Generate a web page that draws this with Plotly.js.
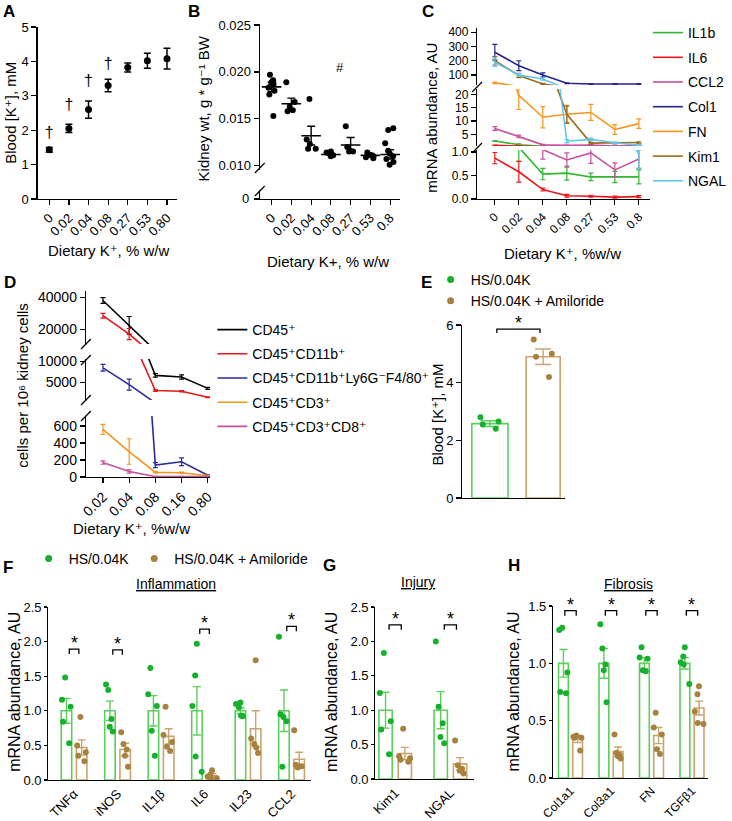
<!DOCTYPE html>
<html><head><meta charset="utf-8">
<script src="https://cdn.plot.ly/plotly-3.0.1.min.js"></script>
<style>html,body{margin:0;padding:0;background:#fff}#chart{width:732px;height:821px}</style>
</head><body><div id="chart"></div>
<script>
// ================= DATA =================
// Panel A
const aCats = ['0','0.02','0.04','0.08','0.27','0.53','0.80'];
const aMean = [1.43, 2.05, 2.60, 3.30, 3.82, 4.02, 4.08];
const aSem  = [0.07, 0.12, 0.25, 0.18, 0.13, 0.22, 0.30];
const aDaggerCats = ['0','0.02','0.04','0.08'];
const aDaggerY = [1.90, 2.70, 3.40, 3.90];
// Panel B
const bCats = ['0','0.02','0.04','0.08','0.27','0.53','0.8'];
const bDots = [
  [0.0197,0.0191,0.0189,0.0187,0.0185,0.0183,0.0180,0.0176,0.0153],
  [0.0189,0.0168,0.0163,0.0159,0.0158],
  [0.0171,0.0128,0.0123,0.0118,0.0118],
  [0.0115,0.0114,0.0113,0.0112,0.0111,0.0110],
  [0.0142,0.0120,0.0116,0.0115,0.0115],
  [0.0114,0.0112,0.0110,0.0109,0.0108,0.0111],
  [0.0140,0.0138,0.0124,0.0116,0.0113,0.0110,0.0107,0.0104,0.0101,0.0084]
];
const bMean = [0.0184, 0.0166, 0.0132, 0.0112, 0.0122, 0.0111, 0.0112];
const bSem  = [0.0005, 0.0006, 0.0010, 0.0001, 0.0008, 0.0002, 0.0005];
// Panel C
const cCats = ['0','0.02','0.04','0.08','0.27','0.53','0.8'];
const cIL1b = [2.5, 1.1, 0.53, 0.55, 0.47, 0.47, 0.47];
const cIL1bErr = [0.1, 0.3, 0.12, 0.15, 0.08, 0.12, 0.15];
const cIL6 = [0.87, 0.58, 0.20, 0.07, 0.06, 0.04, 0.05];
const cIL6Err = [0.12, 0.22, 0.03, 0.03, 0.02, 0.02, 0.02];
const cCCL2 = [7.2, 4.2, 1.05, 0.83, 0.98, 0.62, 0.85];
const cCCL2Err = [0.7, 0.5, 0.2, 0.15, 0.22, 0.15, 0.2];
const cCol1 = [260, 165, 100, 42, 37, 37, 37];
const cCol1Err = [55, 35, 15, 3, 3, 3, 3];
const cFN = [45, 19.6, 11.4, 12.5, 13.2, 6.8, 9.0];
const cFNErr = [5, 5.3, 4, 3, 3, 1.8, 1.8];
const cKim1 = [200, 97, 37, 12.5, 1.7, 1.7, 1.9];
const cKim1Err = [30, 15, 5, 3.4, 0.3, 0.3, 0.3];
const cNGAL = [190, 100, 72, 2.4, 3.1, 1.8, 0.95];
const cNGALErr = [30, 10, 8, 0.6, 0.5, 0.3, 0.3];
// Panel D
const dCats = ['0.02','0.04','0.08','0.16','0.80'];
const dCD45 = [38000, 22500, 6700, 6300, 3600];
const dCD45Err = [1800, 5500, 400, 500, 250];
const dCD11b = [28500, 17000, 3100, 2900, 1500];
const dCD11bErr = [1500, 3500, 200, 150, 100];
const dMac = [8500, 4500, 140, 180, 20];
const dMacErr = [800, 1300, 30, 45, 5];
const dCD3 = [560, 300, 55, 50, 15];
const dCD3Err = [60, 150, 8, 8, 3];
const dCD8 = [170, 65, 5, 5, 5];
const dCD8Err = [20, 20, 2, 2, 2];
// Panel E
const eCats = ['HS/0.04K', 'HS/0.04K + Amiloride'];
const eMean = [2.58, 4.90];
const eSem = [0.10, 0.27];
const eDotsGreen = [2.80, 2.65, 2.55, 2.40];
const eDotsBrown = [5.50, 5.00, 4.90, 4.20];
// Panel F
const fCats = ['TNFα','iNOS','IL1β','IL6','IL23','CCL2'];
const fMeanG = [1, 1, 1, 1, 1, 1];
const fSemG = [0.18, 0.14, 0.22, 0.35, 0.04, 0.30];
const fMeanB = [0.47, 0.44, 0.63, 0.06, 0.74, 0.30];
const fSemB = [0.11, 0.09, 0.11, 0.03, 0.26, 0.10];
const fDotsG = [[1.48,1.16,1.06,0.84,0.53],[1.38,1.30,0.88,0.77,0.70],[1.62,1.24,1.07,0.71,0.35],[1.97,1.51,1.07,0.34,0.12],[1.12,1.10,1.05,0.93,0.92],[2.07,0.95,0.91,0.85,0.19]];
const fDotsB = [[0.91,0.50,0.40,0.35,0.27],[0.69,0.52,0.44,0.35,0.19],[1.06,0.65,0.55,0.48,0.42],[0.14,0.08,0.05,0.03,0.02],[1.73,0.60,0.52,0.47,0.39],[0.72,0.22,0.20,0.20,0.18]];
const fSig = [1.89, 1.88, null, 2.18, null, 2.22];
// Panel G
const gCats = ['Kim1','NGAL'];
const gMeanG = [1, 1];
const gSemG = [0.26, 0.27];
const gMeanB = [0.37, 0.22];
const gSemB = [0.09, 0.09];
const gDotsG = [[1.83,1.25,0.84,0.72,0.36],[2.00,1.05,0.81,0.61,0.52]];
const gDotsB = [[0.73,0.33,0.30,0.28,0.25],[0.56,0.20,0.15,0.12,0.08]];
const gSig = [2.24, 2.24];
// Panel H
const hCats = ['Col1a1','Col3a1','FN','TGFβ1'];
const hMeanG = [1, 1, 1, 1];
const hSemG = [0.12, 0.13, 0.05, 0.05];
const hMeanB = [0.34, 0.23, 0.37, 0.61];
const hSemB = [0.03, 0.04, 0.07, 0.06];
const hDotsG = [[1.31,1.29,0.92,0.75,0.74],[1.34,1.13,0.99,0.94,0.66],[1.14,1.05,1.04,0.94,0.93],[1.14,1.06,1.01,0.99,0.82]];
const hDotsB = [[0.37,0.36,0.35,0.35,0.24],[0.38,0.22,0.20,0.19,0.17],[0.57,0.44,0.38,0.25,0.21],[0.80,0.73,0.58,0.48,0.47]];
const hSig = [1.46, 1.46, 1.46, 1.46];

// ================= STYLE / LAYOUT =================
const W = 732, H = 821;
const FONT = 'Liberation Sans, Arial, Helvetica, DejaVu Sans, sans-serif';
const GL = '#5ad05a', GD = '#16b02c', BL = '#c9a46c', BD = '#a8813f';
function xd(l, r) { return [l / W, r / W]; }
function yd(t, b) { return [1 - b / H, 1 - t / H]; }
function px(x) { return x / W; }
function py(y) { return 1 - y / H; }
function axis(extra) {
  return Object.assign({showgrid:false, zeroline:false, showline:true, linecolor:'#000', linewidth:1.2,
    ticks:'outside', ticklen:5, tickwidth:1.2, tickcolor:'#000',
    tickfont:{family:FONT, size:13, color:'#000'}, fixedrange:true, automargin:false}, extra);
}
function catAxis(cats, dom, range, anchor, extra) {
  return axis(Object.assign({type:'category', categoryorder:'array', categoryarray:cats,
    domain:dom, range:range, anchor:anchor, tickangle:-45}, extra));
}

const traces = [], shapes = [], ann = [];
const layout = {width:W, height:H, margin:{l:0,r:0,t:0,b:0}, paper_bgcolor:'#fff', plot_bgcolor:'rgba(0,0,0,0)',
  font:{family:FONT, size:13, color:'#000'}, showlegend:true, hovermode:false,
  barmode:'group', bargap:0.3, bargroupgap:0.31, boxmode:'group', boxgap:0.3, boxgroupgap:0};

function note(text, x, y, o) {
  ann.push(Object.assign({text:text, x:px(x), y:py(y), xref:'paper', yref:'paper', showarrow:false,
    xanchor:'center', yanchor:'middle', font:{family:FONT, size:15, color:'#000'}}, o || {}));
}
function brk(x, y) {
  shapes.push({type:'line', xref:'paper', yref:'paper', x0:px(x-5), y0:py(y+5), x1:px(x+5), y1:py(y-5), line:{color:'#000', width:1.2}});
}
function dots(cats, groups, color, xa, ya, og, jitter) {
  return {type:'box', x:groups.flatMap((g,i)=>g.map(()=>cats[i])), y:groups.flat(), xaxis:xa, yaxis:ya,
    boxpoints:'all', jitter:jitter, pointpos:0, fillcolor:'rgba(0,0,0,0)', line:{color:'rgba(0,0,0,0)', width:0},
    whiskerwidth:0, marker:{color:color, size:6, line:{width:0}}, offsetgroup:og, showlegend:false, hoverinfo:'skip'};
}
function bars(cats, means, sems, color, xa, ya, og, extra) {
  return Object.assign({type:'bar', x:cats, y:means, xaxis:xa, yaxis:ya,
    marker:{color:'rgba(255,255,255,0)', line:{color:color, width:1.6}},
    error_y:{type:'data', array:sems, color:color, thickness:1.4, width:4},
    offsetgroup:og, showlegend:false, hoverinfo:'skip'}, extra || {});
}
function sig(xa, ya, idx, yv, half, drop) {
  shapes.push({type:'path', xref:xa, yref:ya,
    path:`M ${idx-half},${yv-drop} L ${idx-half},${yv} L ${idx+half},${yv} L ${idx+half},${yv-drop}`,
    line:{color:'#000', width:1.3}});
  ann.push({text:'*', xref:xa, yref:ya, x:idx, y:yv, showarrow:false, yanchor:'bottom', yshift:-6,
    font:{family:FONT, size:18, color:'#000'}});
}

// ---------- Panel A ----------
layout.xaxis = catAxis(aCats, xd(38,179), [-0.6,6.5], 'y', {});
layout.yaxis = axis({domain:yd(27,199), range:[0,5], anchor:'x', tickvals:[0,1,2,3,4,5]});
traces.push({type:'scatter', mode:'markers', x:aCats, y:aMean, xaxis:'x', yaxis:'y', showlegend:false,
  marker:{color:'#000', size:7}, error_y:{type:'data', array:aSem, color:'#000', thickness:1.5, width:3.5}, cliponaxis:false});
traces.push({type:'scatter', mode:'text', x:aDaggerCats, y:aDaggerY, text:aDaggerCats.map(()=>'†'),
  textfont:{family:FONT, size:16, color:'#000000'}, xaxis:'x', yaxis:'y', showlegend:false, cliponaxis:false});
note('<b>A</b>', 9, 11, {font:{family:FONT, size:17, color:'#000'}});
note('Blood [K⁺], mM', 11, 113, {textangle:-90});
note('Dietary K⁺, % w/w', 110, 250);

// ---------- Panel B ----------
layout.xaxis2 = catAxis(bCats, xd(263,405), [-0.6,6.5], 'y3', {});
layout.yaxis2 = axis({domain:yd(24,170), range:[0.00954,0.02511], anchor:'x2', tickvals:[0.010,0.015,0.020,0.025], tickformat:'.3f'});
layout.yaxis3 = axis({domain:yd(190,199), range:[0,0.0009], anchor:'x2', tickvals:[0], showticklabels:false});
traces.push(dots(bCats, bDots, '#000', 'x2', 'y2', 'b', 0.75));
traces.push(dots(bCats, bDots, '#000', 'x2', 'y3', 'b', 0.75));
traces.push({type:'scatter', mode:'markers', x:bCats, y:bMean, xaxis:'x2', yaxis:'y2', showlegend:false,
  marker:{symbol:'line-ew-open', size:14, color:'#000', line:{color:'#000', width:1.6}},
  error_y:{type:'data', array:bSem, color:'#000', thickness:1.4, width:4}});
ann.push({text:'#', xref:'x2', yref:'y2', x:3.45, y:0.0205, showarrow:false, font:{family:FONT, size:13, color:'#000'}});
brk(263, 168); brk(263, 191);
note('0', 254, 198, {xanchor:'right', font:{family:FONT, size:13, color:'#000'}});
note('<b>B</b>', 196, 11, {font:{family:FONT, size:17, color:'#000'}});
note('Kidney wt, g * g⁻¹ BW', 207, 108, {textangle:-90});
note('Dietary K+, % w/w', 332, 261);

// ---------- Panel C ----------
const c12 = {family:FONT, size:12, color:'#000'};
layout.xaxis3 = catAxis(cCats, xd(483,658), [-0.74,6.46], 'y6', {tickfont:c12});
layout.yaxis4 = axis({domain:yd(28,85), range:[29.7,430], anchor:'x3', tickvals:[100,200,300,400], tickfont:c12});
layout.yaxis5 = axis({domain:yd(89,146), range:[0.61,22.0], anchor:'x3', tickvals:[5,10,15,20], tickfont:c12});
layout.yaxis6 = axis({domain:yd(150,199), range:[0,1.043], anchor:'x3', tickvals:[0,0.5,1], tickformat:'.1f', tickfont:c12});
const cSeries = [
  {name:'IL1b', y:cIL1b, e:cIL1bErr, color:'#2eb82e'},
  {name:'IL6', y:cIL6, e:cIL6Err, color:'#e8161b'},
  {name:'CCL2', y:cCCL2, e:cCCL2Err, color:'#c9509b'},
  {name:'Col1', y:cCol1, e:cCol1Err, color:'#25248e'},
  {name:'FN', y:cFN, e:cFNErr, color:'#f7941d'},
  {name:'Kim1', y:cKim1, e:cKim1Err, color:'#9a6a1e'},
  {name:'NGAL', y:cNGAL, e:cNGALErr, color:'#63c6e6'}
];
cSeries.forEach(s => ['y4','y5','y6'].forEach(ya => traces.push({type:'scatter', mode:'lines', name:s.name,
  x:cCats, y:s.y, xaxis:'x3', yaxis:ya, line:{color:s.color, width:1.6},
  error_y:{type:'data', array:s.e, color:s.color, thickness:1.2, width:2.5},
  legend:'legend', legendgroup:'c'+s.name, showlegend:ya==='y5', hoverinfo:'skip'})));
brk(483, 87); brk(483, 148);
note('<b>C</b>', 433, 11, {font:{family:FONT, size:17, color:'#000'}});
note('mRNA abundance, AU', 436, 118, {textangle:-90});
note('Dietary K⁺, %w/w', 570, 253);
layout.legend = {x:px(656), y:py(17), xanchor:'left', yanchor:'top', bgcolor:'rgba(0,0,0,0)', borderwidth:0,
  font:{family:FONT, size:14, color:'#000'}, tracegroupgap:3.5, traceorder:'grouped'};

// ---------- Panel D ----------
const d14 = {family:FONT, size:14, color:'#000'};
layout.xaxis4 = catAxis(dCats, xd(87,213), [-0.65,4.1], 'y9', {tickfont:d14});
layout.yaxis7 = axis({domain:yd(291,344), range:[10812,43937], anchor:'x4', tickvals:[20000,40000], tickformat:'d', tickfont:d14});
layout.yaxis8 = axis({domain:yd(359,400), range:[833,10595], anchor:'x4', tickvals:[5000,10000], tickformat:'d', tickfont:d14});
layout.yaxis9 = axis({domain:yd(416,477), range:[0,718], anchor:'x4', tickvals:[0,200,400,600], tickformat:'d', tickfont:d14});
const dSeries = [
  {name:'CD45⁺', y:dCD45, e:dCD45Err, color:'#000000'},
  {name:'CD45⁺CD11b⁺', y:dCD11b, e:dCD11bErr, color:'#e8161b'},
  {name:'CD45⁺CD11b⁺Ly6G⁻F4/80⁺', y:dMac, e:dMacErr, color:'#2b2b9c'},
  {name:'CD45⁺CD3⁺', y:dCD3, e:dCD3Err, color:'#f7941d'},
  {name:'CD45⁺CD3⁺CD8⁺', y:dCD8, e:dCD8Err, color:'#c9509b'}
];
dSeries.forEach((s,k) => ['y7','y8','y9'].forEach(ya => traces.push({type:'scatter', mode:'lines', name:s.name,
  x:dCats, y:s.y, xaxis:'x4', yaxis:ya, line:{color:s.color, width:1.6},
  error_y:{type:'data', array:s.e, color:s.color, thickness:1.2, width:2.5},
  legend:'legend2', legendgroup:'d'+k, showlegend:ya==='y8', hoverinfo:'skip'})));
brk(87, 344); brk(87, 360); brk(87, 400); brk(87, 416);
note('<b>D</b>', 10, 282, {font:{family:FONT, size:17, color:'#000'}});
note('cells per 10⁶ kidney cells', 22, 385, {textangle:-90});
note('Dietary K⁺, %w/w', 133, 528);
layout.legend2 = {x:px(215), y:py(314), xanchor:'left', yanchor:'top', bgcolor:'rgba(0,0,0,0)', borderwidth:0,
  font:{family:FONT, size:14, color:'#000'}, tracegroupgap:3, traceorder:'grouped'};

// ---------- Panel E ----------
layout.xaxis5 = catAxis(eCats, xd(468,572), [-0.52,1.41], 'y10', {showticklabels:false, ticks:'', tickangle:0});
layout.yaxis10 = axis({domain:yd(325,498), range:[0,6], anchor:'x5', tickvals:[0,2,4,6]});
traces.push(bars([eCats[0]], [eMean[0]], [eSem[0]], GL, 'x5', 'y10', 'e', {width:0.68, error_y:{type:'data', array:[eSem[0]], color:GL, thickness:1.4, width:9}}));
traces.push(bars([eCats[1]], [eMean[1]], [eSem[1]], BL, 'x5', 'y10', 'e', {width:0.64, error_y:{type:'data', array:[eSem[1]], color:BL, thickness:1.4, width:8}}));
traces.push(dots(eCats, [eDotsGreen, []], GD, 'x5', 'y10', 'e', 0.6));
traces.push(dots(eCats, [[], eDotsBrown], BD, 'x5', 'y10', 'e', 0.6));
traces.push({type:'scatter', mode:'markers', x:[null], y:[null], name:'HS/0.04K', xaxis:'x5', yaxis:'y10', legend:'legend3', marker:{color:GD, size:7}});
traces.push({type:'scatter', mode:'markers', x:[null], y:[null], name:'HS/0.04K + Amiloride', xaxis:'x5', yaxis:'y10', legend:'legend3', marker:{color:BD, size:7}});
shapes.push({type:'path', xref:'x5', yref:'y10', path:'M 0.13,5.72 L 0.13,5.86 L 0.94,5.86 L 0.94,5.72', line:{color:'#000', width:1.3}});
ann.push({text:'*', xref:'x5', yref:'y10', x:0.535, y:5.86, showarrow:false, yanchor:'bottom', yshift:-6, font:{family:FONT, size:18, color:'#000'}});
note('<b>E</b>', 432, 282, {font:{family:FONT, size:17, color:'#000'}});
note('Blood [K⁺], mM', 442, 415, {textangle:-90});
layout.legend3 = {x:px(436), y:py(264), xanchor:'left', yanchor:'top', bgcolor:'rgba(0,0,0,0)', borderwidth:0,
  font:{family:FONT, size:14, color:'#000'}};

// ---------- Panel F ----------
const t13 = {family:FONT, size:13, color:'#000'};
const t12 = {family:FONT, size:12, color:'#000'};
layout.xaxis6 = catAxis(fCats, xd(49,315), [-0.59,5.45], 'y11', {ticks:'', tickfont:t13});
layout.yaxis11 = axis({domain:yd(607,780), range:[0,2.5], anchor:'x6', tickvals:[0,0.5,1,1.5,2,2.5], tickformat:'.1f', tickfont:t13, ticklen:3});
traces.push(bars(fCats, fMeanG, fSemG, GL, 'x6', 'y11', 'g'));
traces.push(bars(fCats, fMeanB, fSemB, BL, 'x6', 'y11', 'b'));
traces.push(dots(fCats, fDotsG, GD, 'x6', 'y11', 'g', 0.7));
traces.push(dots(fCats, fDotsB, BD, 'x6', 'y11', 'b', 0.7));
traces.push({type:'scatter', mode:'markers', x:[null], y:[null], name:'HS/0.04K', xaxis:'x6', yaxis:'y11', legend:'legend4', marker:{color:GD, size:7}});
traces.push({type:'scatter', mode:'markers', x:[null], y:[null], name:'HS/0.04K + Amiloride', xaxis:'x6', yaxis:'y11', legend:'legend4', marker:{color:BD, size:7}});
fSig.forEach((v,i) => { if (v !== null) sig('x6', 'y11', i, v, 0.11, 0.07); });
note('<b>F</b>', 8, 567, {font:{family:FONT, size:17, color:'#000'}});
note('<u>Inflammation</u>', 178, 584, {font:{family:FONT, size:14, color:'#000'}});
note('mRNA abundance, AU', 14, 692, {textangle:-90, font:{family:FONT, size:16, color:'#000'}});
layout.legend4 = {x:px(29), y:py(543), xanchor:'left', yanchor:'top', orientation:'h', bgcolor:'rgba(0,0,0,0)', borderwidth:0,
  font:{family:FONT, size:14, color:'#000'}};

// ---------- Panel G ----------
layout.xaxis7 = catAxis(gCats, xd(380,480), [-0.36,1.43], 'y12', {ticks:'', tickfont:t13});
layout.yaxis12 = axis({domain:yd(607,779), range:[0,2.5], anchor:'x7', tickvals:[0,0.5,1,1.5,2,2.5], tickformat:'.1f', tickfont:t13, ticklen:3});
traces.push(bars(gCats, gMeanG, gSemG, GL, 'x7', 'y12', 'g'));
traces.push(bars(gCats, gMeanB, gSemB, BL, 'x7', 'y12', 'b'));
traces.push(dots(gCats, gDotsG, GD, 'x7', 'y12', 'g', 0.7));
traces.push(dots(gCats, gDotsB, BD, 'x7', 'y12', 'b', 0.7));
gSig.forEach((v,i) => sig('x7', 'y12', i, v, 0.11, 0.07));
note('<b>G</b>', 334, 565, {font:{family:FONT, size:17, color:'#000'}});
note('<u>Injury</u>', 423, 582, {font:{family:FONT, size:14, color:'#000'}});
note('mRNA abundance, AU', 335, 692, {textangle:-90, font:{family:FONT, size:16, color:'#000'}});

// ---------- Panel H ----------
layout.xaxis8 = catAxis(hCats, xd(560,717), [-0.43,3.4], 'y13', {ticks:'', tickfont:t12});
layout.yaxis13 = axis({domain:yd(606,778), range:[0,1.5], anchor:'x8', tickvals:[0,0.5,1,1.5], tickformat:'.1f', tickfont:t13, ticklen:3});
traces.push(bars(hCats, hMeanG, hSemG, GL, 'x8', 'y13', 'g'));
traces.push(bars(hCats, hMeanB, hSemB, BL, 'x8', 'y13', 'b'));
traces.push(dots(hCats, hDotsG, GD, 'x8', 'y13', 'g', 0.7));
traces.push(dots(hCats, hDotsB, BD, 'x8', 'y13', 'b', 0.7));
hSig.forEach((v,i) => sig('x8', 'y13', i, v, 0.14, 0.045));
note('<b>H</b>', 520, 565, {font:{family:FONT, size:17, color:'#000'}});
note('<u>Fibrosis</u>', 636, 584, {font:{family:FONT, size:14, color:'#000'}});
note('mRNA abundance, AU', 519, 692, {textangle:-90, font:{family:FONT, size:16, color:'#000'}});

layout.shapes = shapes;
layout.annotations = ann;
Plotly.newPlot('chart', traces, layout, {displayModeBar:false, staticPlot:true});
</script></body></html>
